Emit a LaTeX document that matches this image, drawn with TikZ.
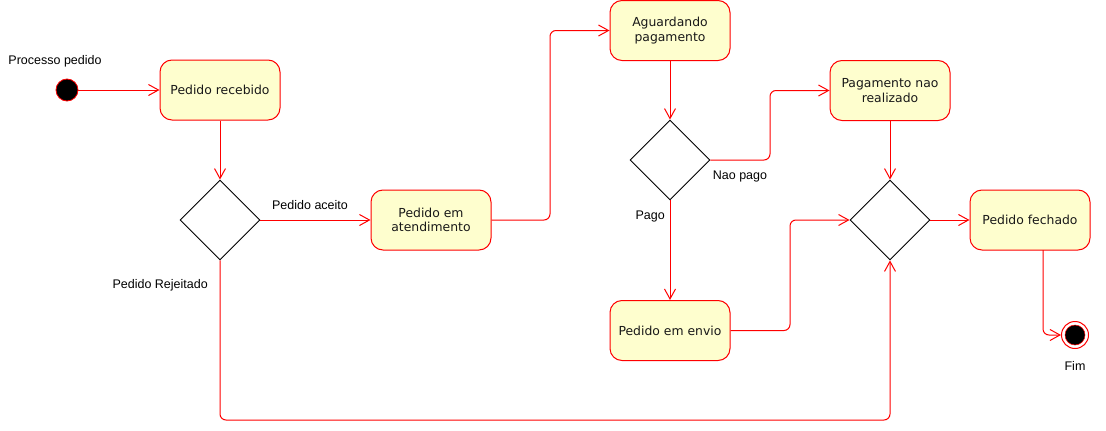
\documentclass[tikz,border=0pt]{standalone}
\usepackage{fontspec}
\setmainfont{DejaVu Sans}
\newfontfamily\labfont{Liberation Sans}
\usetikzlibrary{shapes.geometric,arrows.meta}
\definecolor{boxfill}{HTML}{FEFECE}
\definecolor{umlred}{HTML}{FF0000}
\tikzset{
  state/.style={draw=umlred, fill=boxfill, rounded corners=12pt, line width=1pt,
    minimum width=120pt, minimum height=60pt, align=center, inner sep=2pt,
    font=\fontsize{12.4}{14.5}\selectfont, text=black!90},
  choice/.style={draw=black, fill=white, diamond, minimum width=80pt, minimum height=80pt,
    inner sep=0pt, line width=0.9pt},
  flow/.style={draw=umlred, line width=1pt, rounded corners=6pt,
    -{Straight Barb[length=10pt,width=11pt,line width=1pt]}},
  lab/.style={font=\labfont\fontsize{12.5}{14}\selectfont, text=black, inner sep=0pt},
}
\begin{document}
\begin{tikzpicture}[x=1pt,y=-1pt]
\useasboundingbox (0,0) rectangle (1106,431);
% nodes
\node[circle, fill=black, draw=umlred, line width=0.8pt, minimum size=22pt, inner sep=0pt] (start) at (67,90) {};
\node[lab] (lstart) at (55,61) {Processo pedido};
\node[state] (receb) at (220,90) {Pedido recebido};
\node[choice] (d1) at (220,220) {};
\node[state] (atend) at (431,220) {Pedido em\\atendimento};
\node[state] (aguard) at (670,30.5) {Aguardando\\pagamento};
\node[choice] (d2) at (670,160) {};
\node[state] (pnr) at (890,90.5) {Pagamento nao\\realizado};
\node[choice] (d3) at (890,220) {};
\node[state] (fech) at (1030,220) {Pedido fechado};
\node[state] (envio) at (670,330.5) {Pedido em envio};
\node[circle, draw=umlred, fill=white, line width=1pt, minimum size=27pt, inner sep=0pt] (fim) at (1075,335) {};
\fill[black, draw=umlred, line width=0.5pt] (fim.center) circle (10pt);
% labels
\node[lab] (laceito) at (310,205) {Pedido aceito};
\node[lab, anchor=east] (lrej) at (208,285) {Pedido Rejeitado};
\node[lab] (lnao) at (740,176) {Nao pago};
\node[lab, anchor=east] (lpago) at (665,216) {Pago};
\node[lab] (lfim) at (1075,366) {Fim};
% helper coordinates
\coordinate (m1) at (550,125);
\coordinate (m2) at (770,125);
\coordinate (m3) at (790,275);
\coordinate (bot) at (550,420);
\coordinate (fechout) at (1043,250);
% connectors
\draw[flow] (start) -- (receb.west);
\draw[flow] (receb.south) -- (d1.north);
\draw[flow] (d1.east) -- (atend.west);
\draw[flow] (atend.east) -| (m1) |- (aguard.west);
\draw[flow] (aguard.south) -- (d2.north);
\draw[flow] (d2.east) -| (m2) |- (pnr.west);
\draw[flow] (d2.south) -- (envio.north);
\draw[flow] (pnr.south) -- (d3.north);
\draw[flow] (envio.east) -| (m3) |- (d3.west);
\draw[flow] (d1.south) |- (bot) -| (d3.south);
\draw[flow] (d3.east) -- (fech.west);
\draw[flow] (fechout) |- (fim.west);
\end{tikzpicture}
\end{document}
